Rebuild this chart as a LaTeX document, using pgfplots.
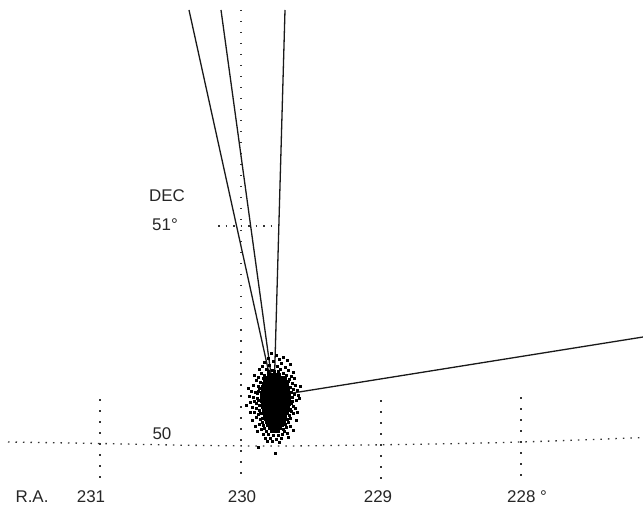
\documentclass[border=0pt]{standalone}
\usepackage{fontspec}
\setmainfont{Liberation Sans}
\usepackage{pgfplots}
\pgfplotsset{compat=1.18}
\tikzset{lbl/.style={font=\fontsize{17}{19}\selectfont, text=black!85, inner sep=0pt}}
\begin{document}
\begin{tikzpicture}
\begin{axis}[
  scale only axis, width=643bp, height=508bp,
  xmin=0, xmax=643, ymin=0, ymax=508, y dir=reverse,
  hide axis, clip=false,
]
% dotted graticule
\addplot[black!80, line width=1.3bp, dash pattern=on 1.5bp off 9.5bp] coordinates {(100,399) (100,479)};
\addplot[black!80, line width=1.3bp, dash pattern=on 1.5bp off 9.5bp] coordinates {(241,10) (241,479)};
\addplot[black!80, line width=1.3bp, dash pattern=on 1.5bp off 9.5bp] coordinates {(381,400) (381,479)};
\addplot[black!80, line width=1.3bp, dash pattern=on 1.5bp off 9.5bp] coordinates {(521,397) (521,479)};
\addplot[black!80, line width=1.3bp, dash pattern=on 1.5bp off 6bp, smooth] coordinates {(8,442) (100,443.5) (190,445.3) (280,446) (380,444.8) (460,443.5) (521,442) (580,440) (643,437.5)};
\addplot[black!80, line width=1.3bp, dash pattern=on 1.5bp off 6bp] coordinates {(218,226) (272,226)};
% solid lines
\addplot[black!90, line width=1.3bp] coordinates {(274,396) (189,10)};
\addplot[black!90, line width=1.3bp] coordinates {(274,396) (221,10)};
\addplot[black!90, line width=1.3bp] coordinates {(274,396) (285,10)};
\addplot[black!90, line width=1.3bp] coordinates {(274,396) (643,337)};
% dense core
\addplot[only marks, mark=square*, mark size=1.22bp, black] coordinates {
(268,374) (271.5,374) (275,374) (278.5,374)
(266,377) (269.5,377) (273,377) (276.5,377) (280,377) (283,377)
(264.5,380) (268,380) (271.5,380) (275,380) (278.5,380) (282,380) (285,380)
(263,383) (266.5,383) (270,383) (273.5,383) (277,383) (280.5,383) (284,383) (286.5,383)
(262,386) (265.5,386) (269,386) (272.5,386) (276,386) (279.5,386) (283,386) (286.5,386)
(262.5,389) (266,389) (269.5,389) (273,389) (276.5,389) (280,389) (283.5,389) (287.5,389)
(261,392) (264.5,392) (268,392) (271.5,392) (275,392) (278.5,392) (282,392) (285.5,392) (288,392)
(261.5,395) (265,395) (268.5,395) (272,395) (275.5,395) (279,395) (282.5,395) (286,395) (289,395)
(261,398) (264.5,398) (268,398) (271.5,398) (275,398) (278.5,398) (282,398) (285.5,398) (289,398)
(261.5,401) (265,401) (268.5,401) (272,401) (275.5,401) (279,401) (282.5,401) (286,401) (289,401)
(262,404) (265.5,404) (269,404) (272.5,404) (276,404) (279.5,404) (283,404) (286.5,404) (289,404)
(262.5,407) (266,407) (269.5,407) (273,407) (276.5,407) (280,407) (283.5,407) (287.5,407)
(263,410) (266.5,410) (270,410) (273.5,410) (277,410) (280.5,410) (284,410) (287.5,410)
(263.5,413) (267,413) (270.5,413) (274,413) (277.5,413) (281,413) (284.5,413) (287,413)
(264,416) (267.5,416) (271,416) (274.5,416) (278,416) (281.5,416) (285,416)
(265.5,419) (269,419) (272.5,419) (276,419) (279.5,419) (283,419) (285,419)
(266,422) (269.5,422) (273,422) (276.5,422) (280,422) (283.5,422)
(267.5,425) (271,425) (274.5,425) (278,425) (281.5,425)
(269,428) (272.5,428) (276,428) (279.5,428)
(271.5,431) (275,431) (278,431)
};
% scattered halo
\addplot[only marks, mark=square*, mark size=0.7bp, black] coordinates {
(271,353) (276,355) (283,357) (268,358) (279,359) (287,360) (264,362) (273,361) (281,363) (290,364)
(262,366) (269,365) (277,366) (285,367) (259,369) (266,369) (272,370) (280,369) (288,370) (293,372)
(261,373) (264,375) (268,371) (274,371) (283,373) (286,375) (291,376) (258,377) (263,378) (285,378)
(289,379) (278,371) (270,376)
(256,380) (260,382) (288,381) (292,383) (295,385) (253,385) (258,386) (259,388) (290,387) (293,389)
(297,390) (251,391) (255,392) (257,393) (258,391) (291,392) (294,394) (298,395) (249,396) (253,397)
(257,398) (258,400) (292,397) (292,401) (296,400) (250,402) (254,401) (256,403) (259,405) (291,403)
(293,406) (295,408) (252,407) (256,408) (259,410) (290,409) (291,411) (293,413) (254,412) (258,414)
(260,413) (289,415) (290,418) (256,417) (260,419) (262,418) (287,419) (288,422) (248,388) (299,398)
(246,405) (300,386)
(262,422) (263,425) (264,428) (285,424) (286,427) (259,424) (290,426) (261,429) (266,431) (283,429)
(284,431) (263,434) (268,434) (273,435) (278,435) (282,434) (287,433) (265,438) (270,438) (276,439)
(281,438) (272,441) (267,441) (279,442) (293,430) (257,431) (288,437) (296,420) (252,420) (255,426)
(275,453) (258,447) (297,412) (250,412) (294,378) (254,375)
};
% labels
\node[lbl] at (axis cs:32,497) {R.A.};
\node[lbl] at (axis cs:91,497) {231};
\node[lbl] at (axis cs:242,497) {230};
\node[lbl] at (axis cs:378,497) {229};
\node[lbl, anchor=west] at (axis cs:507,497) {228 °};
\node[lbl] at (axis cs:167,196) {DEC};
\node[lbl, anchor=west] at (axis cs:152,225) {51°};
\node[lbl] at (axis cs:162,434) {50};
\end{axis}
\pgfresetboundingbox
\path (current axis.south west) rectangle (current axis.north east);
\end{tikzpicture}
\end{document}
